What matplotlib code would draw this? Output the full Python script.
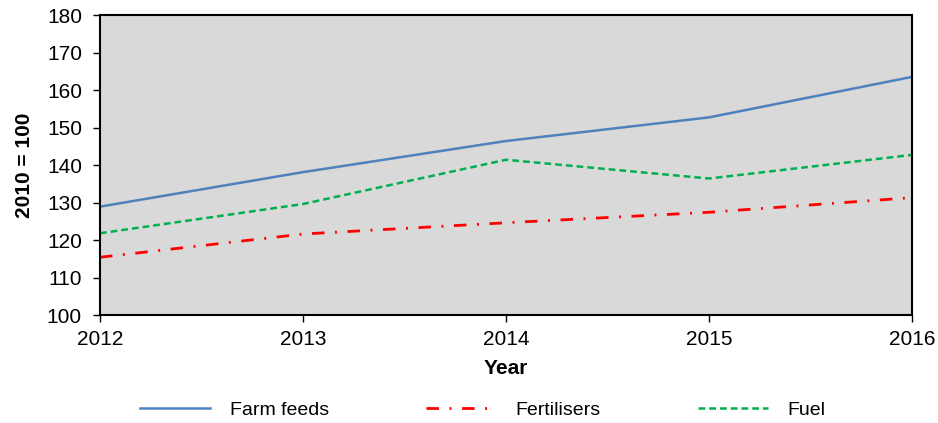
import matplotlib.pyplot as plt

plt.rcParams['font.family'] = ['Liberation Sans', 'DejaVu Sans']

years = [2012, 2013, 2014, 2015, 2016]
farm_feeds = [128.9, 138.1, 146.4, 152.7, 163.5]
fertilisers = [115.4, 121.6, 124.6, 127.4, 131.3]
fuel = [121.8, 129.6, 141.4, 136.4, 142.7]

fig = plt.figure(figsize=(9.38, 4.23), dpi=100)
ax = fig.add_axes([0.1066, 0.2553, 0.8657, 0.7092])
ax.set_facecolor('#d9d9d9')

l1, = ax.plot(years, farm_feeds, color='#4f81bd', lw=1.8, label='Farm feeds')
l2, = ax.plot(years, fertilisers, color='#ff0000', lw=2.0,
              linestyle=(0, (4.5, 3.8, 0.7, 3.8)), label='Fertilisers')
l3, = ax.plot(years, fuel, color='#00b050', lw=1.8,
              linestyle=(0, (2.7, 1.6)), label='Fuel')

ax.set_xlim(2012, 2016)
ax.set_ylim(100, 180)
ax.set_xticks(years)
ax.set_yticks(range(100, 181, 10))
ax.tick_params(labelsize=15, direction='out', length=5, width=1, colors='black')
ax.tick_params(axis='x', pad=6)
ax.tick_params(axis='y', pad=8)
for s in ax.spines.values():
    s.set_linewidth(1.5)
    s.set_color('black')

ax.set_ylabel('2010 = 100', fontsize=15, fontweight='bold')
ax.yaxis.set_label_coords(-0.081, 0.5)
ax.set_xlabel('Year', fontsize=15, fontweight='bold')
ax.xaxis.set_label_coords(0.5, -0.147)

fig.legend(handles=[l1, l2, l3], loc='center', ncol=3,
           bbox_to_anchor=(483 / 938, 1 - 410 / 423), frameon=False,
           fontsize=14, handlelength=3.6, handletextpad=1.0, columnspacing=5.0)

fig.savefig('out.png', dpi=100)
